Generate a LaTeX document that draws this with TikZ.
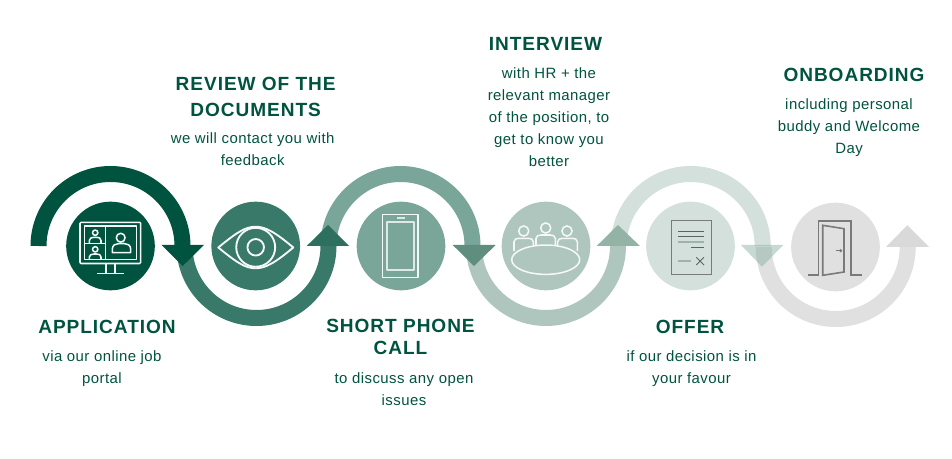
\documentclass[tikz,border=0pt]{standalone}
\usepackage{fontspec}
\setmainfont{Liberation Sans}
\newfontfamily\headfont[LetterSpace=5]{Liberation Sans}
\newfontfamily\bodyfont[LetterSpace=3]{Liberation Sans}
\definecolor{cA}{HTML}{00543F}
\definecolor{cB}{HTML}{38796A}
\definecolor{cBh}{HTML}{2D7060}
\definecolor{cC}{HTML}{7AA599}
\definecolor{cCh}{HTML}{5F8E7E}
\definecolor{cD}{HTML}{AEC6BD}
\definecolor{cDh}{HTML}{93B3A7}
\definecolor{cE}{HTML}{D3E0DC}
\definecolor{cEh}{HTML}{81AB9E}
\definecolor{cF}{HTML}{E0E0E0}
\definecolor{cFh}{HTML}{D9D9D9}
\definecolor{icoG}{HTML}{7A7A7A}
\definecolor{icoS}{HTML}{9DB3AB}
\definecolor{icoD}{HTML}{5A6360}
\tikzset{
  disc/.style={circle,inner sep=0pt,minimum size=66.5pt,fill=#1},
  head/.style={text=cA,anchor=base,inner sep=0pt,font=\headfont\bfseries\fontsize{14.3}{16}\selectfont},
  body/.style={text=cA,anchor=base,inner sep=0pt,font=\bodyfont\fontsize{11.2}{13}\selectfont},
  band/.style={line width=12pt,draw=#1},
  ico/.style={draw=white!92!cC,line width=1.15pt,line join=round},
  gico/.style={draw=icoG,line width=1.2pt,line join=miter},
}
\newcommand{\upband}[3]{\draw[band=#3] (#1-72,#2) arc[start angle=180,end angle=0,radius=54pt];}
\newcommand{\lowband}[3]{\draw[band=#3] (#1-72,#2) arc[start angle=180,end angle=360,radius=54pt];}
\newcommand{\dome}[5]{\draw[ico] (#1,#3) -- (#1,#5+3.5) .. controls (#1,#5+0.8) and (#1+2.5,#5) .. (#1+5,#5) -- (#2-5,#5) .. controls (#2-2.5,#5) and (#2,#5+0.8) .. (#2,#5+3.5) -- (#2,#4);}
\begin{document}
\begin{tikzpicture}[x=0.75pt,y=-0.75pt]
\useasboundingbox[fill=white] (0,0) rectangle (952,459);
% bands, last to first so that each arrowhead lies over the next band
\lowband{835.7}{247}{cF}
\fill[cFh] (886,247) -- (929,247) -- (907.3,225.3) -- cycle;
\upband{690.7}{246}{cE}
\fill[cEh,opacity=.45] (741,245) -- (783.3,245) -- (762,266.7) -- cycle;
\lowband{546}{246}{cD}
\fill[cDh] (596.7,246) -- (640,246) -- (618,225) -- cycle;
\upband{400.5}{246}{cC}
\fill[cCh] (452.7,245) -- (495.7,245) -- (474,266) -- cycle;
\lowband{256.5}{246}{cB}
\fill[cBh] (306.7,246) -- (349,246) -- (328,225) -- cycle;
\upband{110.5}{246}{cA}
\fill[cA] (161.7,245) -- (204,245) -- (182.7,266) -- cycle;
% discs
\node[disc=cA] (d1) at (110.5,246) {};
\node[disc=cB] (d2) at (255.7,246) {};
\node[disc=cC] (d3) at (401,246) {};
\node[disc=cD] (d4) at (546,246) {};
\node[disc=cE] (d5) at (690.5,246) {};
\node[disc=cF] (d6) at (835.5,247) {};
% icon 1: video call
\draw[ico,rounded corners=0.8pt] (80,222.3) rectangle (140.7,263.5);
\draw[ico] (84.3,226) rectangle (136.7,259.7);
\draw[ico] (105.7,226) -- (105.7,259.7) (84.3,243.3) -- (105.7,243.3);
\draw[ico] (106,263.5) -- (106,273.3) (115,263.5) -- (115,273.3) (97.3,273.3) -- (124,273.3);
\draw[ico] (120.7,237.7) circle[radius=3.3pt];
\draw[ico] (112.3,252.7) -- (112.3,249) .. controls (112.3,245) and (116,243.5) .. (119,243.5) -- (124,243.5) .. controls (127,243.5) and (130.7,245) .. (130.7,249) -- (130.7,252.7) -- cycle;
\draw[ico] (95.2,232.7) circle[radius=2pt];
\draw[ico] (89.3,243.3) -- (89.3,240.5) .. controls (89.3,238) and (92,237.3) .. (94,237.3) -- (96.5,237.3) .. controls (99,237.3) and (101,238) .. (101,240.5) -- (101,243.3);
\draw[ico] (95.2,249.3) circle[radius=2pt];
\draw[ico] (89.3,259.7) -- (89.3,257) .. controls (89.3,254.7) and (92,254) .. (94,254) -- (96.5,254) .. controls (99,254) and (101,254.7) .. (101,257) -- (101,259.7);
% icon 2: eye
\draw[ico,line width=1.4pt] (218.3,247.5) .. controls (236,233) and (245,226.7) .. (255.7,226.7) .. controls (266,226.7) and (276,233) .. (293.3,247.5) .. controls (276,262) and (266,268.3) .. (255.7,268.3) .. controls (245,268.3) and (236,262) .. (218.3,247.5) -- cycle;
\draw[ico,line width=1.4pt] (255.7,247.3) circle[radius=14.6pt];
\draw[ico,line width=1.4pt] (255.7,247.3) circle[radius=6.2pt];
% icon 3: phone
\draw[ico,line width=1pt] (382.7,214.3) rectangle (418,277.7);
\draw[ico,line width=1.5pt,draw=white!75!cC] (386.7,221.7) rectangle (414,270);
\draw[ico,line width=1.3pt,draw=white!75!cC] (397.3,218) -- (405,218);
% icon 4: meeting
\draw[ico] (545.7,259.7) ellipse[x radius=25.5pt,y radius=11pt];
\draw[ico] (523.7,231) circle[radius=3.8pt];
\draw[ico] (545.7,228) circle[radius=3.8pt];
\draw[ico] (567,231) circle[radius=3.8pt];
\dome{514}{533.3}{251}{246.5}{238.3}
\dome{536}{555.3}{245}{245}{235}
\dome{557.7}{577.3}{246.5}{251}{238.3}
% icon 5: document
\draw[draw=icoG,line width=0.7pt] (671,220.7) rectangle (711,274);
\draw[draw=icoD,line width=0.7pt] (677.7,231) -- (704,231) (677.7,236.3) -- (704,236.3) (691.3,247.3) -- (704,247.3);
\draw[draw=icoS,line width=0.9pt] (677.7,242) -- (704,242) (677.7,261) -- (690.7,261);
\draw[draw=icoD,line width=0.6pt] (696.3,257.3) -- (704,265) (704,257.3) -- (696.3,265);
% icon 6: door
\draw[gico] (808.3,275.3) -- (818.3,275.3) -- (818.3,221) -- (851,221) -- (851,275.3) -- (861.7,275.3);
\draw[gico] (822.7,225.3) -- (844,228.7) -- (844,272) -- (822.7,275.3) -- cycle;
\draw[gico] (835.7,250.7) -- (840.7,250.7);
\fill[icoG] (840.7,250.7) circle[radius=1.3pt];
% texts
\node[head] (t1a) at (107,334) {APPLICATION};
\node[body] (t1b) at (102,361) {via our online job};
\node[body] (t1c) at (102,383) {portal};
\node[head] (t2a) at (255.7,91) {REVIEW OF THE};
\node[head] (t2b) at (255.7,117) {DOCUMENTS};
\node[body] (t2c) at (252.7,144) {we will contact you with};
\node[body] (t2d) at (252.7,166) {feedback};
\node[head] (t3a) at (400.5,332) {SHORT PHONE};
\node[head] (t3b) at (400.5,354) {CALL};
\node[body] (t3c) at (404,383) {to discuss any open};
\node[body] (t3d) at (404,405) {issues};
\node[head] (t4a) at (545.5,51) {INTERVIEW};
\node[body] (t4b) at (549,79) {with HR + the};
\node[body] (t4c) at (549,101) {relevant manager};
\node[body] (t4d) at (549,123) {of the position, to};
\node[body] (t4e) at (549,145) {get to know you};
\node[body] (t4f) at (549,167) {better};
\node[head] (t5a) at (690,334) {OFFER};
\node[body] (t5b) at (691.5,361) {if our decision is in};
\node[body] (t5c) at (691.5,383) {your favour};
\node[head] (t6a) at (854,82) {ONBOARDING};
\node[body] (t6b) at (849,110) {including personal};
\node[body] (t6c) at (849,132) {buddy and Welcome};
\node[body] (t6d) at (849,154) {Day};
\end{tikzpicture}
\end{document}
